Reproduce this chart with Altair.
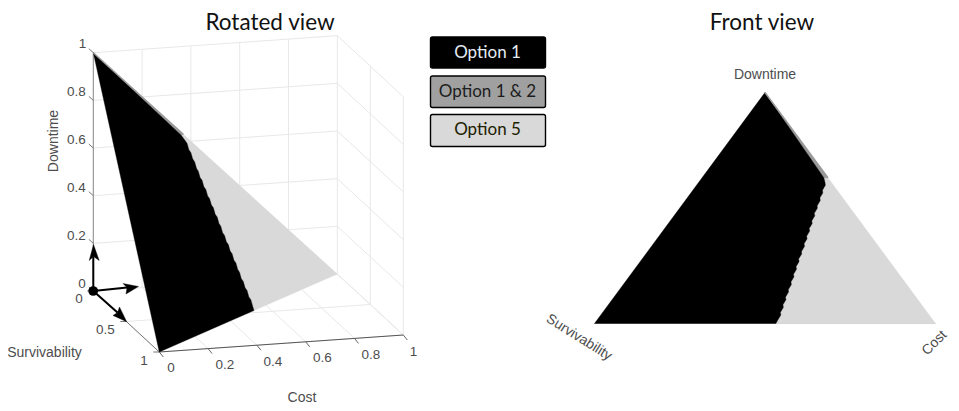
import altair as alt
import pandas as pd

# simplex boundary between Option 1 and Option 5 (cost, downtime)
boundary_cost = [.357, .371, .378, .380, .387, .389, .396, .398, .404, .406, .413, .415, .422, .424,
                 .431, .433, .440, .442, .449, .451, .457, .459, .466, .468, .475, .477, .484, .486,
                 .493, .495, .501, .503, .510, .512, .519, .521, .528, .530, .532]
boundary_down = [.631, .610, .598, .577, .565, .544, .532, .510, .499, .477, .466, .444, .433, .411,
                 .400, .378, .367, .345, .334, .312, .301, .279, .268, .246, .235, .213, .202, .180,
                 .169, .147, .136, .114, .103, .081, .070, .048, .037, .015, .000]

grid_ticks = [0, .2, .4, .6, .8, 1]
surv_ticks = [0, .5, 1]
z_labels = ["1", "0.8", "0.6", "0.4", "0.2", "0"]
z_label_x = [82.5, 76.5, 76.5, 76.5, 76.5, 82]
z_label_y = [44, 92, 140, 188, 236, 284]
s_labels = ["0", "0.5", "1"]
s_label_x = [79, 105.5, 144]
s_label_y = [299, 330, 361]
c_labels = ["0", "0.2", "0.4", "0.6", "0.8", "1"]
c_label_x = [171, 225, 273, 322.5, 371, 413.5]
c_label_y = [368, 365, 362, 358, 355, 352]
legend_names = ["Option 1", "Option 1 & 2", "Option 5"]
legend_fill = ["#000000", "#a0a0a0", "#d9d9d9"]
legend_text = ["#e6edf5", "#1c1c1c", "#202000"]
legend_top = [37, 76, 114.5]
legend_bottom = [68, 107.5, 146.5]

BLACK, MID, LIGHT = "#000000", "#9a9a9a", "#d9d9d9"
GRID = "#e8e8e8"
X = dict(scale=alt.Scale(domain=[8, 951], nice=False, zero=False), axis=None)
Y = dict(scale=alt.Scale(domain=[408, 8], nice=False, zero=False), axis=None)


def rot(c, s, d):
    return (93.3 + 244 * c + 66 * s, 291 - 17 * c + 61 * s - 238.3 * d)


def front(c, s, d):
    return (594.5 * s + 935.5 * c + 765 * d, 323.5 * (s + c) + 92.5 * d)


def line(segments, color, width=1):
    rows = []
    for i, seg in enumerate(segments):
        for j, (x, y) in enumerate(seg):
            rows.append({"x": x, "y": y, "id": i, "o": j})
    return alt.Chart(pd.DataFrame(rows)).mark_line(color=color, strokeWidth=width).encode(
        x=alt.X("x:Q", **X), y=alt.Y("y:Q", **Y), detail="id:N", order="o:Q")


def poly(points, color):
    rows = [{"x": x, "y": y, "o": j} for j, (x, y) in enumerate(points + points[:1])]
    return alt.Chart(pd.DataFrame(rows)).mark_line(fill=color, stroke=color, strokeWidth=0.4).encode(
        x=alt.X("x:Q", **X), y=alt.Y("y:Q", **Y), order="o:Q")


def text(labels, xs, ys, size, color="#4d4d4d", font="Liberation Sans", angle=0):
    df = pd.DataFrame({"t": labels, "x": xs, "y": ys})
    return alt.Chart(df).mark_text(fontSize=size, color=color, font=font, angle=angle,
                                   align="center", baseline="middle").encode(
        x=alt.X("x:Q", **X), y=alt.Y("y:Q", **Y), text="t:N")


# grid of the rotated view
grid = []
for t in grid_ticks:
    grid.append([rot(0, 0, t), rot(1, 0, t)])        # back wall, downtime lines
    grid.append([rot(t, 0, 0), rot(t, 0, 1)])        # back wall, cost lines
    grid.append([rot(1, 0, t), rot(1, 1, t)])        # side wall, downtime lines
    grid.append([rot(t, 0, 0), rot(t, 1, 0)])        # floor, cost lines
for t in surv_ticks[1:]:
    grid.append([rot(1, t, 0), rot(1, t, 1)])
    grid.append([rot(0, t, 0), rot(1, t, 0)])

axes_z = [[rot(0, 0, 0), rot(0, 0, 1)]]
axes_s = [[rot(0, 0, 0), rot(0, 1, 0)]]
axes_c = [[rot(0, 1, 0), rot(1, 1, 0)]]
ticks_z = [[rot(0, 0, t), (rot(0, 0, t)[0] - 4.5, rot(0, 0, t)[1] - 4)] for t in grid_ticks]
ticks_s = [[rot(0, t, 0), (rot(0, t, 0)[0] - 6, rot(0, t, 0)[1])] for t in surv_ticks]
ticks_c = [[rot(t, 1, 0), (rot(t, 1, 0)[0] + 4, rot(t, 1, 0)[1] + 5)] for t in grid_ticks]


def regions(proj):
    bpts = [proj(c, 1 - c - d, d) for c, d in zip(boundary_cost, boundary_down)]
    apex, left, right = proj(0, 0, 1), proj(0, 1, 0), proj(1, 0, 0)
    top = proj(.369, 0, .631)
    return [
        poly([top, right, bpts[-1]] + bpts[::-1][1:], LIGHT),
        poly([apex, top, bpts[0]], MID),
        poly([apex] + bpts + [left], BLACK),
        line([[apex, top]], MID, 1.5),
    ]


# arrows at the origin of the rotated view
shafts = [[(93.3, 291), (93.3, 257)], [(93.3, 291), (127, 287.6)], [(93.3, 291), (117.5, 312.5)]]
heads = [
    [(93.5, 244.5), (99.2, 260.5), (93.5, 256.5), (89.2, 260.5)],
    [(138.5, 286.5), (126, 294), (127, 287.6), (123, 283.5)],
    [(126.7, 321.7), (119.5, 307), (117.5, 312.5), (113, 315.5)],
]

layers = [line(grid, GRID, 1)]
layers += [line(axes_z, "#8c8c8c", 1), line(axes_s, "#777777", 1), line(axes_c, "#555555", 1),
           line(ticks_z, "#777777", 1), line(ticks_s, "#777777", 1), line(ticks_c, "#666666", 1)]
layers += regions(rot)
layers += [line(shafts, "#000000", 2)] + [poly(h, "#000000") for h in heads]
layers.append(alt.Chart(pd.DataFrame({"x": [93.2], "y": [291]})).mark_circle(size=95, color="#000000", opacity=1).encode(
    x=alt.X("x:Q", **X), y=alt.Y("y:Q", **Y)))

layers.append(line([[front(0, 1, 0), front(1, 0, 0)]], "#cfcfcf", 1.2))
layers += regions(front)

# legend boxes
leg = pd.DataFrame({"n": legend_names, "f": legend_fill, "tc": legend_text,
                    "x": [430.5] * 3, "x2": [545.5] * 3, "y": legend_top, "y2": legend_bottom,
                    "xc": [487.5] * 3, "yc": [52.5, 91.5, 130]})
layers.append(alt.Chart(leg).mark_rect(stroke="#000000", strokeWidth=1.4, cornerRadius=2).encode(
    x=alt.X("x:Q", **X), x2="x2:Q", y=alt.Y("y:Q", **Y), y2="y2:Q",
    fill=alt.Fill("f:N", scale=None)))
layers.append(alt.Chart(leg).mark_text(fontSize=17, font="Lato", align="center", baseline="middle").encode(
    x=alt.X("xc:Q", **X), y=alt.Y("yc:Q", **Y), text="n:N", color=alt.Color("tc:N", scale=None)))

# titles and labels
layers.append(text(["Rotated view"], [270], [22.5], 22.5, "#111111", "Lato"))
layers.append(text(["Front view"], [762], [22.5], 22.5, "#111111", "Lato"))
layers.append(text(z_labels, z_label_x, z_label_y, 13.5))
layers.append(text(s_labels, s_label_x, s_label_y, 13.5))
layers.append(text(c_labels, c_label_x, c_label_y, 13.5))
layers.append(text(["Downtime"], [54], [141], 14, angle=270))
layers.append(text(["Survivability"], [44.5], [352.5], 14))
layers.append(text(["Cost"], [302], [398], 14))
layers.append(text(["Downtime"], [765], [75], 14))
layers.append(text(["Survivability"], [579], [337.5], 14, angle=32))
layers.append(text(["Cost"], [934.5], [343], 14, angle=315))

chart = alt.layer(*layers).properties(
    width=943, height=400, padding=0, autosize=alt.AutoSizeParams(type="none")
).configure_view(stroke=None)
chart.save("out.html", embed_options={"renderer": "svg", "actions": False})
